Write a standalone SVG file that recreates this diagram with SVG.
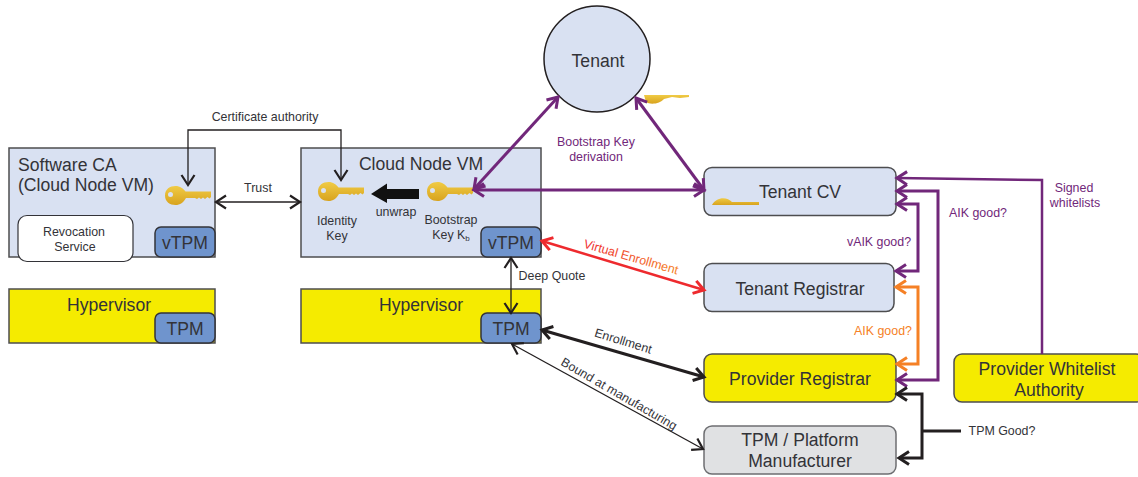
<svg xmlns="http://www.w3.org/2000/svg" width="1138" height="477" viewBox="0 0 1138 477">
<style>
text{font-family:"Liberation Sans",Arial,sans-serif;fill:#333338;text-anchor:middle}
.n{font-size:17.600px}.s{font-size:12.400px}
.b{fill:#d9e1f2;stroke:#4d4d4f;stroke-width:1.5}
.y{fill:#f5eb00;stroke:#4d4d4f;stroke-width:1.5}
.t{fill:#6f94cd;stroke:#333338;stroke-width:1.5}
.c{fill:none;stroke-linejoin:miter}
.k{stroke:#231f20}.p{stroke:#71277a}.o{stroke:#f58025}.r{stroke:#ee2a2e}
.w1{stroke-width:1.3}.w2{stroke-width:2.500}.w3{stroke-width:3}
.pt{fill:#71277a}.ot{fill:#f58025}
</style>
<defs>
<marker id="ak" markerUnits="userSpaceOnUse" markerWidth="16" markerHeight="16" refX="13" refY="8" orient="auto-start-reverse"><path d="M3 1.5L13 8L3 14.5" fill="none" stroke="#231f20" stroke-width="2.2"/></marker>
<marker id="akb" markerUnits="userSpaceOnUse" markerWidth="16" markerHeight="16" refX="13" refY="8" orient="auto-start-reverse"><path d="M3 1.5L13 8L3 14.5" fill="none" stroke="#231f20" stroke-width="3"/></marker>
<marker id="ap" markerUnits="userSpaceOnUse" markerWidth="16" markerHeight="16" refX="13" refY="8" orient="auto-start-reverse"><path d="M3 1.5L13 8L3 14.5" fill="none" stroke="#71277a" stroke-width="3"/></marker>
<marker id="ao" markerUnits="userSpaceOnUse" markerWidth="16" markerHeight="16" refX="13" refY="8" orient="auto-start-reverse"><path d="M3 1.5L13 8L3 14.5" fill="none" stroke="#f58025" stroke-width="3"/></marker>
<marker id="ar" markerUnits="userSpaceOnUse" markerWidth="16" markerHeight="16" refX="13" refY="8" orient="auto-start-reverse"><path d="M3 1.5L13 8L3 14.5" fill="none" stroke="#ee2a2e" stroke-width="3"/></marker>
<linearGradient id="kg" x1="0" y1="0" x2="0" y2="1"><stop offset="0" stop-color="#f0cb45"/><stop offset="1" stop-color="#d8a31e"/></linearGradient>
<linearGradient id="vg" x1="0" y1="0" x2="1" y2="0"><stop offset="0" stop-color="#ee2a2e"/><stop offset="1" stop-color="#f58025"/></linearGradient>
<g id="key"><path fill="url(#kg)" fill-rule="evenodd" d="M0 9.500C0 3 5 0 10.500 0C15 0 18.500 2.500 20.500 5.500H46V11L44.500 12.500L42.500 11L40 13L38 11.500L36 13L34 11.500L32 13L30 12H21C18.500 16.500 15 19 10.500 19C5 19 0 16 0 9.500ZM3 8.500A2.500 2.500 0 1 0 8 8.500A2.500 2.500 0 1 0 3 8.500Z"/></g>
</defs>

<g id="software-ca">
<rect class="b" x="9" y="148" width="206" height="109"/>
<text class="n" x="18" y="171" style="text-anchor:start">Software CA</text>
<text class="n" x="18" y="191" style="text-anchor:start">(Cloud Node VM)</text>
<use href="#key" x="165" y="186"/>
</g>
<g id="revocation-service">
<rect x="18" y="215.500" width="115" height="46" rx="9" fill="#fff" stroke="#333338" stroke-width="1.2"/>
<text class="s" x="74" y="236">Revocation</text>
<text class="s" x="75" y="251">Service</text>
</g>
<g id="vtpm-ca"><rect class="t" x="155" y="227" width="60" height="30" rx="6"/><text class="n" x="185" y="249">vTPM</text></g>
<g id="hypervisor-ca"><rect class="y" x="9" y="289" width="206" height="54"/><text class="n" x="109" y="311">Hypervisor</text></g>
<g id="tpm-ca"><rect class="t" x="155" y="313" width="60" height="30" rx="6"/><text class="n" x="185" y="335">TPM</text></g>

<g id="cloud-node-vm">
<rect class="b" x="301" y="148" width="240" height="109"/>
<text class="n" x="421" y="170">Cloud Node VM</text>
<use href="#key" x="318" y="182"/>
<use href="#key" x="427" y="182"/>
<path fill="#111" d="M419 189H387V183.500L371 194L387 203V199H419Z"/>
<text class="s" x="396" y="216">unwrap</text>
<text class="s" x="337" y="225">Identity</text>
<text class="s" x="337" y="240">Key</text>
<text class="s" x="451" y="224">Bootstrap</text>
<text class="s" x="451" y="239">Key K<tspan font-size="8" dy="2">b</tspan></text>
</g>
<g id="vtpm-node"><rect class="t" x="481" y="227" width="60" height="30" rx="6"/><text class="n" x="511" y="249">vTPM</text></g>
<g id="hypervisor-node"><rect class="y" x="301" y="289" width="240" height="54"/><text class="n" x="421" y="311">Hypervisor</text></g>
<g id="tpm-node"><rect class="t" x="481" y="313" width="60" height="30" rx="6"/><text class="n" x="511" y="335">TPM</text></g>

<g id="tenant">
<circle class="b" cx="597" cy="59" r="53" style="stroke:#231f20"/>
<text class="n" x="598" y="67">Tenant</text>
<path fill="url(#kg)" d="M644 95H689V97L680 98L672 97L664 99C660 104 650 105 646 102Z"/>
</g>
<g id="tenant-cv">
<rect class="b" x="704" y="167.500" width="192" height="48" rx="8"/>
<path fill="url(#kg)" d="M712 205C716 197 727 196 732 202H759V205Z"/>
<text class="n" x="800" y="198">Tenant CV</text>
</g>
<g id="tenant-registrar"><rect class="b" x="704" y="263.500" width="190" height="48" rx="8"/><text class="n" x="800" y="295">Tenant Registrar</text></g>
<g id="provider-registrar"><rect class="y" x="704" y="354" width="192" height="48" rx="8"/><text class="n" x="800" y="385">Provider Registrar</text></g>
<g id="tpm-manufacturer"><rect x="704" y="426" width="192" height="48" rx="8" fill="#e0e1e3" stroke="#6d6e71" stroke-width="1.500"/><text class="n" x="800" y="446">TPM / Platform</text><text class="n" x="800" y="467">Manufacturer</text></g>
<g id="provider-whitelist"><rect class="y" x="954" y="354" width="190" height="48" rx="8"/><text class="n" x="1047" y="375">Provider Whitelist</text><text class="n" x="1049" y="396">Authority</text></g>

<g id="connectors">
<path class="c k w1" d="M188 185V130H341V180" marker-start="url(#ak)" marker-end="url(#ak)"/>
<path class="c k w1" d="M216 202H300" marker-start="url(#ak)" marker-end="url(#ak)"/>
<path class="c k w1" d="M511 258V313" marker-start="url(#ak)" marker-end="url(#ak)"/>
<path class="c k w3" d="M542 330L704 377" marker-start="url(#akb)" marker-end="url(#akb)"/>
<path class="c k w1" d="M512 344L703 449" marker-start="url(#ak)" marker-end="url(#ak)"/>
<path class="c r w2" d="M542 241L704 290" marker-start="url(#ar)" marker-end="url(#ar)"/>
<path class="c p w3" d="M474 189L558 97" marker-start="url(#ap)" marker-end="url(#ap)"/>
<path class="c p w3" d="M474 190H704" marker-start="url(#ap)" marker-end="url(#ap)"/>
<path class="c p w3" d="M636 98L704 190" marker-start="url(#ap)" marker-end="url(#ap)"/>
<path class="c p w2" d="M897 178L1042 180V354" marker-start="url(#ap)"/>
<path class="c p w3" d="M897 191H938V380H897" marker-start="url(#ap)" marker-end="url(#ap)"/>
<path class="c p w3" d="M897 204H918V271H896" marker-start="url(#ap)" marker-end="url(#ap)"/>
<path class="c o w3" d="M896 287H918V364H897" marker-start="url(#ao)" marker-end="url(#ao)"/>
<path class="c k w3" d="M897 394H922V458H899" marker-start="url(#akb)" marker-end="url(#akb)"/>
<path class="c k w3" d="M922 431H961"/>
</g>

<g id="labels">
<text class="s" x="265" y="121">Certificate authority</text>
<text class="s" x="258" y="192">Trust</text>
<text class="s pt" x="596" y="146">Bootstrap Key</text>
<text class="s pt" x="596" y="161">derivation</text>
<text class="s pt" x="1074" y="192">Signed</text>
<text class="s pt" x="1075" y="207">whitelists</text>
<text class="s pt" x="978" y="217">AIK good?</text>
<text class="s pt" x="879" y="246">vAIK good?</text>
<text class="s ot" x="883" y="335">AIK good?</text>
<text class="s" x="552" y="280">Deep Quote</text>
<text class="s" x="1002" y="435">TPM Good?</text>
<text class="s" x="630" y="261" transform="rotate(16 630 261)" style="fill:url(#vg)">Virtual Enrollment</text>
<text class="s" x="622" y="345" transform="rotate(17 622 345)">Enrollment</text>
<text class="s" x="619" y="398" transform="rotate(30 619 394)">Bound at manufacturing</text>
</g>
</svg>
